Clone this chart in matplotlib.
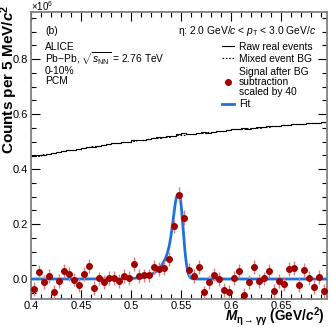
import numpy as np
import matplotlib
matplotlib.use("Agg")
import matplotlib.pyplot as plt
from matplotlib.ticker import MultipleLocator, FixedLocator
from matplotlib.lines import Line2D

plt.rcParams['font.family'] = ['Liberation Sans', 'DejaVu Sans']
plt.rcParams['mathtext.fontset'] = 'custom'
plt.rcParams['mathtext.rm'] = 'Liberation Sans'
plt.rcParams['mathtext.it'] = 'Liberation Sans:italic'
plt.rcParams['mathtext.bf'] = 'Liberation Sans:bold'
plt.rcParams['mathtext.bfit'] = 'Liberation Sans:bold:italic'

# ---- data (units of 10^6 counts) ----
bin_lo = 0.400
bin_w = 0.005
n_bins = 59

signal_x40 = [-0.036, 0.027, -0.010, 0.012, -0.048, -0.006, 0.029, 0.017, -0.002, -0.023,
              0.019, 0.048, -0.032, 0.002, -0.012, 0.005, 0.005, -0.008, 0.010, 0.005,
              0.055, 0.010, 0.013, 0.013, 0.045, 0.036, 0.041, 0.072, 0.193, 0.307,
              0.223, 0.032, 0.010, 0.043, -0.049, -0.012, 0.016, -0.001, -0.041, -0.048,
              0.005, 0.029, -0.058, -0.010, 0.045, -0.008, 0.002, 0.029, -0.043, -0.006,
              -0.018, 0.036, 0.040, -0.023, 0.034, 0.004, -0.028, 0.007, -0.043]
signal_err = [0.025, 0.025, 0.025, 0.025, 0.025, 0.025, 0.025, 0.025, 0.025, 0.025,
              0.025, 0.025, 0.025, 0.025, 0.025, 0.025, 0.025, 0.025, 0.025, 0.025,
              0.025, 0.025, 0.025, 0.025, 0.025, 0.025, 0.026, 0.026, 0.027, 0.028,
              0.027, 0.026, 0.025, 0.025, 0.025, 0.025, 0.025, 0.025, 0.025, 0.025,
              0.025, 0.025, 0.025, 0.025, 0.025, 0.025, 0.025, 0.025, 0.025, 0.025,
              0.025, 0.025, 0.025, 0.025, 0.025, 0.025, 0.025, 0.025, 0.025]

mixed_bg = [0.446, 0.449, 0.453, 0.456, 0.459, 0.462, 0.465, 0.468, 0.471, 0.474,
            0.477, 0.480, 0.482, 0.485, 0.488, 0.490, 0.493, 0.495, 0.498, 0.500,
            0.503, 0.505, 0.507, 0.509, 0.512, 0.514, 0.516, 0.518, 0.520, 0.522,
            0.524, 0.526, 0.528, 0.530, 0.532, 0.534, 0.536, 0.538, 0.540, 0.542,
            0.544, 0.545, 0.547, 0.548, 0.550, 0.551, 0.553, 0.554, 0.556, 0.557,
            0.559, 0.560, 0.562, 0.563, 0.565, 0.566, 0.568, 0.569, 0.571]
raw_real = [0.4459, 0.4497, 0.4528, 0.4563, 0.4579, 0.4618, 0.4657, 0.4684, 0.4710, 0.4737,
            0.4775, 0.4812, 0.4812, 0.4851, 0.4877, 0.4901, 0.4931, 0.4948, 0.4983, 0.5001,
            0.5044, 0.5053, 0.5073, 0.5093, 0.5131, 0.5149, 0.5170, 0.5190, 0.5218, 0.5268,
            0.5296, 0.5268, 0.5281, 0.5301, 0.5332, 0.5328, 0.5357, 0.5384, 0.5400, 0.5410,
            0.5439, 0.5450, 0.5478, 0.5470, 0.5489, 0.5521, 0.5530, 0.5547, 0.5549, 0.5569,
            0.5595, 0.5604, 0.5629, 0.5636, 0.5644, 0.5668, 0.5681, 0.5688, 0.5699]

# fit parameters: gaussian with exponential low-mass tail
fit_amp = 0.31
fit_mean = 0.548
fit_sigma = 0.0040
fit_lambda = 0.0095

x_ticks = [0.4, 0.45, 0.5, 0.55, 0.6, 0.65]
x_ticklabels = ["0.4", "0.45", "0.5", "0.55", "0.6", "0.65"]
y_ticks = [0.0, 0.2, 0.4, 0.6, 0.8]
y_ticklabels = ["0.0", "0.2", "0.4", "0.6", "0.8"]

edges = bin_lo + bin_w * np.arange(n_bins + 1)
centers = 0.5 * (edges[:-1] + edges[1:])

W, H = 332, 327
fig = plt.figure(figsize=(W / 100, H / 100), dpi=100)
ax = fig.add_axes([31 / W, 28 / H, 296 / W, 286.7 / H])

ax.stairs(raw_real, edges, color='black', lw=0.8, baseline=None)
ax.stairs(mixed_bg, edges, color='black', lw=0.8, ls=(0, (1.5, 1.5)), baseline=None)

xf = np.linspace(0.4, 0.696, 800)
g = np.exp(-0.5 * ((xf - fit_mean) / fit_sigma) ** 2)
tail = np.where(xf < fit_mean, np.exp((xf - fit_mean) / fit_lambda) * (1 - g), 0.0)
fit_y = fit_amp * (g + tail)
ax.plot(xf, fit_y, color='#1f72d6', lw=2.0, zorder=3)

ax.errorbar(centers, signal_x40, yerr=signal_err, fmt='none', ecolor='#d88080',
            elinewidth=1.0, capsize=0, zorder=4)
ax.plot(centers, signal_x40, 'o', color='#a00000', ms=4.0, mec='#a00000', zorder=5)

ax.set_xlim(0.4, 0.696)
ax.set_ylim(-0.0727, 0.970)
ax.xaxis.set_major_locator(FixedLocator(x_ticks))
ax.set_xticklabels(x_ticklabels)
ax.xaxis.set_minor_locator(MultipleLocator(0.01))
ax.yaxis.set_major_locator(FixedLocator(y_ticks))
ax.set_yticklabels(y_ticklabels)
ax.yaxis.set_minor_locator(MultipleLocator(0.05))
ax.tick_params(which='both', direction='in', top=True, right=True, labelsize=8, pad=2)
ax.tick_params(axis='x', pad=1.5)
ax.tick_params(which='major', length=6.5, width=0.8)
ax.tick_params(which='minor', length=3.5, width=0.8)
for s in ax.spines.values():
    s.set_color('#808080')
    s.set_linewidth(1.3)

def ftxt(x, y, s, **kw):
    fig.text(x / W, 1 - y / H, s, va='center', **kw)

ftxt(31, 6, r'$\times$10$^{6}$', fontsize=7, ha='left')
ftxt(45, 31, '(b)', fontsize=7.4, ha='left')
ftxt(45, 46.7, 'ALICE', fontsize=7.4, ha='left')
ftxt(45, 59, r'Pb$-$Pb, $\sqrt{s_{\rm NN}}$ = 2.76 TeV', fontsize=7.4, ha='left')
ftxt(45, 71, '0-10%', fontsize=7.4, ha='left')
ftxt(45, 81, 'PCM', fontsize=7.4, ha='left')
ftxt(316, 31, r'η: 2.0 GeV/$c$ < $p_{\rm T}$ < 3.0 GeV/$c$', fontsize=7.4, ha='right')

fig.text(9.5 / W, 1 - 5 / H, r'Counts per 5 MeV/$\mathbfit{c}^{\mathbf{2}}$', rotation=90,
         ha='center', va='top', fontsize=11, fontweight='bold')
fig.text(325 / W, 1 - 317 / H,
         r'$\mathbfit{M}_{\mathbf{\eta \rightarrow \gamma\gamma}}$ (GeV/$\mathbfit{c}^{\mathbf{2}}$)',
         ha='right', va='center', fontsize=9.8, fontweight='bold')

handles = [Line2D([], [], color='black', lw=0.8),
           Line2D([], [], color='black', lw=0.8, ls=(0, (1.5, 1.5))),
           Line2D([], [], color='#a00000', marker='o', ls='none', ms=4),
           Line2D([], [], color='#1f72d6', lw=2.0)]
labels = ['Raw real events', 'Mixed event BG', 'Signal after BG\nsubtraction\nscaled by 40', 'Fit']
leg = fig.legend(handles, labels, loc='upper left', bbox_to_anchor=(222 / W, 1 - 41.5 / H),
                 frameon=False, fontsize=7.4, handlelength=1.15, handletextpad=0.5,
                 labelspacing=0.25, borderpad=0, borderaxespad=0)
for t in leg.get_texts():
    t.set_linespacing(1.0)

fig.savefig('out.png', dpi=100)
